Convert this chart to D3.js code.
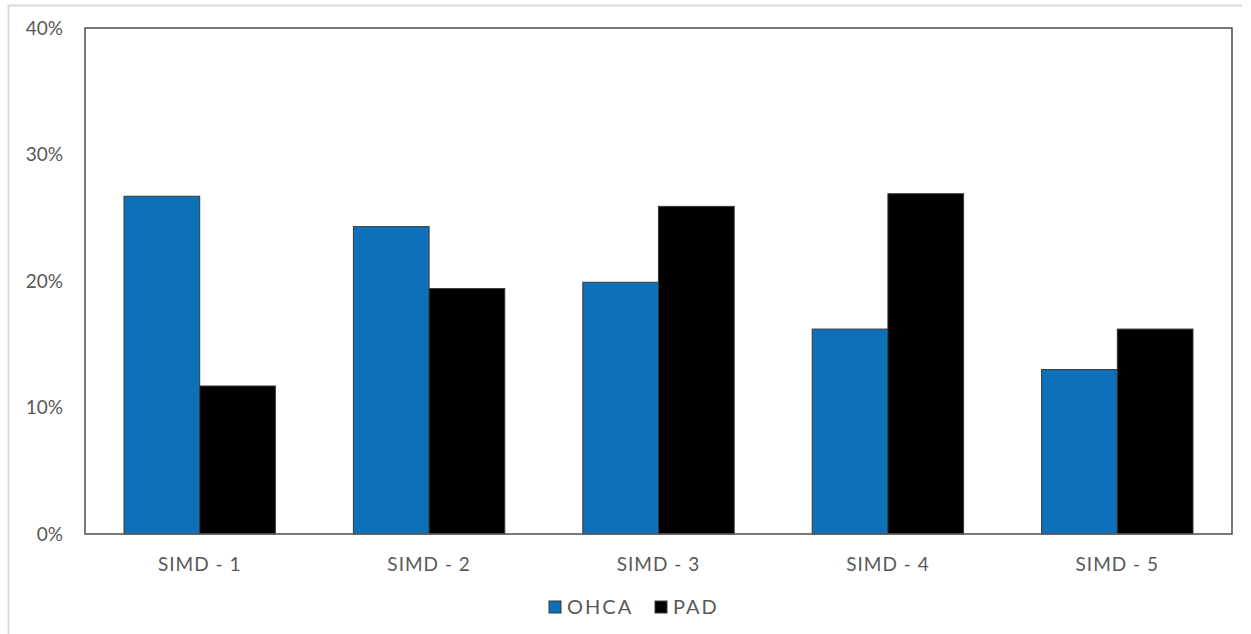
<!DOCTYPE html>
<html>
<head>
<meta charset="utf-8">
<script src="https://cdn.jsdelivr.net/npm/d3@7"></script>
<style>
  html, body { margin: 0; padding: 0; background: #fff; }
  svg text { font-family: "Lato", "DejaVu Sans", sans-serif; fill: #595959; }
</style>
</head>
<body>
<svg id="chart" width="1251" height="634"></svg>
<script>
// Share of cases by SIMD quintile
const categories = ["SIMD - 1", "SIMD - 2", "SIMD - 3", "SIMD - 4", "SIMD - 5"];
const seriesNames = ["OHCA", "PAD"];
const ohcaValues = [26.7, 24.3, 19.9, 16.2, 13.0];
const padValues = [11.7, 19.4, 25.9, 26.9, 16.2];
const yTicks = [0, 10, 20, 30, 40];
const seriesColors = ["#0e70b8", "#000000"];

const svg = d3.select("#chart");
const plot = { left: 85, top: 28, right: 1232, bottom: 534 };

// outer chart border (top and left edges visible)
svg.append("line").attr("x1", 8).attr("x2", 1242).attr("y1", 5.5).attr("y2", 5.5)
  .attr("stroke", "#d9d9d9").attr("stroke-width", 2);
svg.append("line").attr("x1", 8.5).attr("x2", 8.5).attr("y1", 5).attr("y2", 634)
  .attr("stroke", "#d9d9d9").attr("stroke-width", 2);

const x0 = d3.scaleBand().domain(categories).range([plot.left, plot.right]).paddingInner(0.34).paddingOuter(0.17);
const x1 = d3.scaleBand().domain(seriesNames).range([0, x0.bandwidth()]);
const y = d3.scaleLinear().domain([0, 40]).range([plot.bottom, plot.top]);

const rows = categories.map((c, i) => ({ cat: c, vals: [ohcaValues[i], padValues[i]] }));

const groups = svg.append("g").selectAll("g").data(rows).join("g")
  .attr("transform", d => `translate(${x0(d.cat)},0)`);
groups.selectAll("rect").data(d => d.vals.map((v, j) => ({ name: seriesNames[j], v, j })))
  .join("rect")
  .attr("x", d => x1(d.name))
  .attr("width", x1.bandwidth())
  .attr("y", d => y(d.v))
  .attr("height", d => plot.bottom - y(d.v))
  .attr("fill", d => seriesColors[d.j])
  .attr("stroke", "#3a3a3a")
  .attr("stroke-width", 1);

// plot frame
svg.append("rect")
  .attr("x", plot.left).attr("y", plot.top)
  .attr("width", plot.right - plot.left).attr("height", plot.bottom - plot.top)
  .attr("fill", "none").attr("stroke", "#595959").attr("stroke-width", 1.6);

// y axis labels
const yAxis = d3.axisLeft(y).tickValues(yTicks).tickFormat(d => d + "%").tickSize(0).tickPadding(22);
const ya = svg.append("g").attr("transform", `translate(${plot.left},0)`).call(yAxis);
ya.select(".domain").remove();
ya.selectAll("text").attr("font-size", 19).attr("font-family", null).attr("fill", "#595959");

// x axis labels
const xAxis = d3.axisBottom(x0).tickSize(0).tickPadding(24);
const xa = svg.append("g").attr("transform", `translate(0,${plot.bottom})`).call(xAxis);
xa.select(".domain").remove();
xa.selectAll("text").attr("font-size", 19).attr("font-family", null).attr("fill", "#595959")
  .attr("letter-spacing", 1);

// legend
const legendItems = [
  { name: "OHCA", color: seriesColors[0], x: 549 },
  { name: "PAD", color: seriesColors[1], x: 655 }
];
const lg = svg.append("g").selectAll("g").data(legendItems).join("g")
  .attr("transform", d => `translate(${d.x},601)`);
lg.append("rect").attr("width", 12).attr("height", 12)
  .attr("fill", d => d.color).attr("stroke", "#3a3a3a").attr("stroke-width", 1);
lg.append("text").attr("x", 18).attr("y", 6).attr("dy", "0.35em")
  .attr("font-size", 20).attr("letter-spacing", 2).text(d => d.name);
</script>
</body>
</html>
